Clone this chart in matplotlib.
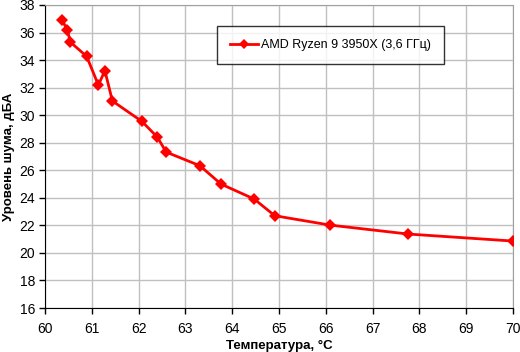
import matplotlib
matplotlib.use("Agg")
import matplotlib.pyplot as plt

temps = [60.37, 60.48, 60.54, 60.89, 61.14, 61.28, 61.44, 62.07, 62.40, 62.59,
         63.31, 63.76, 64.47, 64.91, 66.09, 67.76, 70.0]
noise = [36.88, 36.16, 35.31, 34.27, 32.19, 33.23, 31.03, 29.55, 28.41, 27.32,
         26.33, 25.0, 23.91, 22.7, 22.02, 21.37, 20.86]
series_name = "AMD Ryzen 9 3950X (3,6 ГГц)"
x_ticks = list(range(60, 71))
y_ticks = list(range(16, 39, 2))

plt.rcParams['font.family'] = ['Liberation Sans', 'DejaVu Sans']

fig = plt.figure(figsize=(5.2, 3.52), dpi=100)
ax = fig.add_axes([45/520, 44/352, 468/520, 303/352])

ax.plot(temps, noise, color='#FF0000', lw=2, marker='D', markersize=6,
        markeredgewidth=0, label=series_name, zorder=3)

ax.set_xlim(60, 70)
ax.set_ylim(16, 38)
ax.set_xticks(x_ticks)
ax.set_yticks(y_ticks)
ax.grid(True, color='#C0C0C0', lw=1)
ax.set_axisbelow(True)
for s in ['top', 'right']:
    ax.spines[s].set_color('#A0A0A0')
for s in ['left', 'bottom']:
    ax.spines[s].set_color('black')
ax.tick_params(axis='both', labelsize=10, direction='out', length=4, width=1, pad=3)
ax.tick_params(axis='x', pad=6)

ax.set_xlabel("Температура, °C", fontsize=9.5, fontweight='bold', labelpad=3)
ax.set_ylabel("Уровень шума, дБА", fontsize=9.5, fontweight='bold', labelpad=3)

leg = ax.legend(loc='upper left', bbox_to_anchor=((217-45)/468, 1-(26-5)/303),
                fontsize=9, frameon=True, fancybox=False, borderpad=1.05,
                handlelength=2.2, handletextpad=0.25, borderaxespad=0,
                markerscale=0.8)
leg.get_frame().set_edgecolor('black')
leg.get_frame().set_linewidth(1)

fig.savefig("out.png", dpi=100)
